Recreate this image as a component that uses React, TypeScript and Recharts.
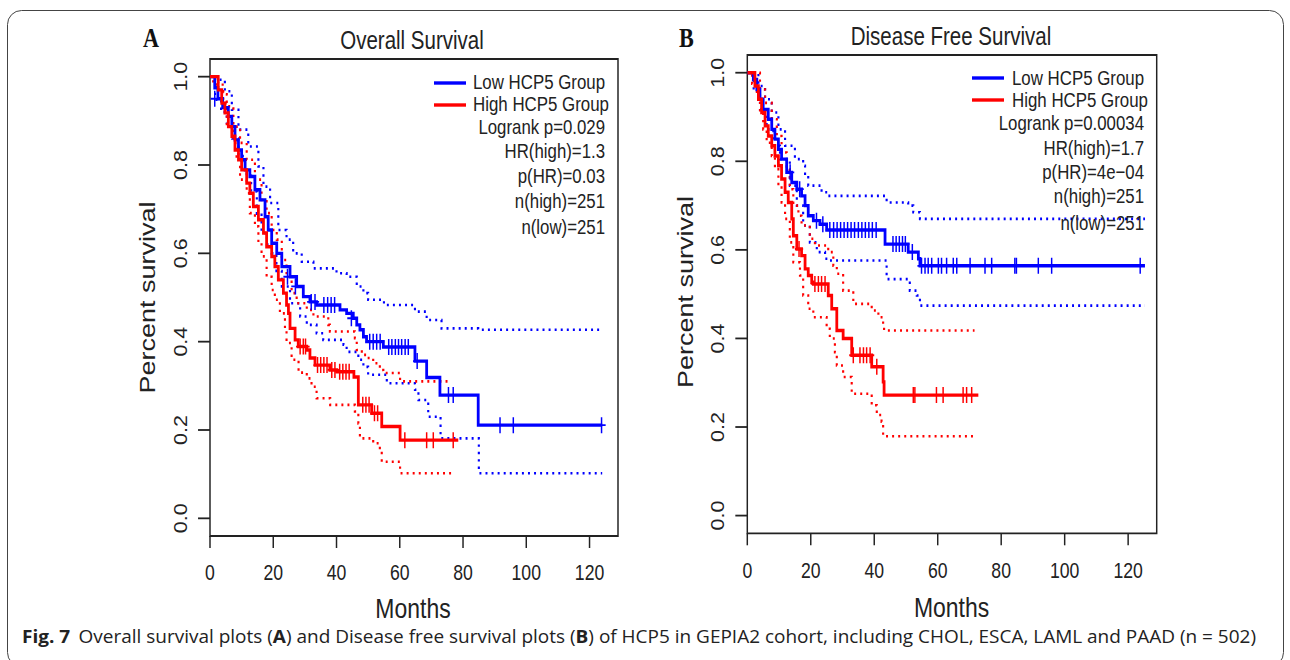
import React from 'react';
import { ComposedChart, Line, Scatter, XAxis, YAxis, ReferenceArea } from 'recharts';

type Pt = [number, number];

const monthTicks = [0, 20, 40, 60, 80, 100, 120];
const survivalTicks = [0, 0.2, 0.4, 0.6, 0.8, 1.0];

// Overall survival (panel A) - [month, survival] at each step
const osLow: Pt[] = [[0, 1], [1.5, 0.975], [2.5, 0.95], [4, 0.93], [5.8, 0.91], [6.9, 0.887], [7.9, 0.857], [9, 0.834], [10, 0.812], [11.1, 0.789], [12.6, 0.774], [14.2, 0.744], [15.8, 0.721], [17.4, 0.683], [18.4, 0.653], [19.5, 0.623], [21.1, 0.6], [22.7, 0.57], [25.3, 0.547], [27.4, 0.525], [29.5, 0.502], [31.6, 0.49], [33.7, 0.483], [41.1, 0.472], [43.2, 0.464], [45.3, 0.453], [46.4, 0.438], [47.4, 0.427], [48.5, 0.411], [49.5, 0.4], [54.8, 0.388], [64.8, 0.356], [68.5, 0.319], [72.7, 0.279], [84.8, 0.211], [124, 0.211]];
const osHigh: Pt[] = [[0, 1], [2.6, 0.97], [3.7, 0.94], [4.7, 0.918], [5.8, 0.887], [6.9, 0.865], [7.9, 0.834], [9, 0.812], [10, 0.789], [11.6, 0.759], [12.6, 0.736], [13.7, 0.706], [15.3, 0.676], [16.9, 0.646], [17.9, 0.615], [19.5, 0.593], [20.5, 0.57], [21.6, 0.54], [23.2, 0.51], [24.2, 0.483], [24.8, 0.464], [25.3, 0.43], [26.9, 0.404], [27.9, 0.389], [30.6, 0.381], [31.6, 0.363], [33.2, 0.347], [37.9, 0.336], [40.1, 0.332], [45.5, 0.32], [46.9, 0.257], [51.1, 0.238], [54.3, 0.208], [60.1, 0.177], [78.5, 0.177]];
const osLowUpper: Pt[] = [[0, 1], [1.6, 0.993], [4.7, 0.967], [6.9, 0.925], [9, 0.88], [12.1, 0.842], [15.3, 0.797], [16.9, 0.751], [19, 0.714], [21.6, 0.653], [24.2, 0.631], [26.3, 0.6], [29, 0.581], [32.7, 0.566], [40, 0.555], [43.2, 0.547], [46.4, 0.525], [48.5, 0.51], [50, 0.495], [55, 0.483], [64.8, 0.468], [68.5, 0.449], [73.2, 0.43], [84.8, 0.427], [124, 0.427]];
const osLowLower: Pt[] = [[0, 1], [1.6, 0.948], [3.5, 0.92], [5.3, 0.895], [7, 0.86], [9, 0.82], [11, 0.78], [13, 0.74], [14.8, 0.69], [16.3, 0.646], [18, 0.62], [19.5, 0.6], [21, 0.56], [22.7, 0.525], [25.3, 0.487], [28.5, 0.457], [30.6, 0.438], [33.7, 0.419], [35.8, 0.404], [42.2, 0.393], [43.2, 0.377], [46.9, 0.359], [48.5, 0.343], [50, 0.325], [55.9, 0.306], [64.8, 0.291], [65.9, 0.268], [69, 0.23], [72.9, 0.181], [85, 0.102], [124, 0.102]];
const osHighUpper: Pt[] = [[0, 1], [2.6, 0.985], [4, 0.96], [5.3, 0.933], [7.4, 0.887], [9.5, 0.85], [11.6, 0.812], [14.2, 0.767], [16.3, 0.721], [17.9, 0.691], [19.5, 0.653], [21.1, 0.631], [22.7, 0.585], [24.2, 0.547], [25.8, 0.51], [27.4, 0.487], [30.6, 0.472], [32.7, 0.457], [37.4, 0.438], [37.9, 0.423], [45.8, 0.408], [46.4, 0.381], [48, 0.37], [49.5, 0.363], [51.6, 0.351], [53.7, 0.336], [54.8, 0.329], [60.1, 0.31], [76, 0.31]];
const osHighLower: Pt[] = [[0, 1], [1, 0.985], [2.1, 0.97], [4.2, 0.94], [5.3, 0.887], [7.4, 0.85], [8.4, 0.812], [9.5, 0.767], [11.6, 0.736], [12.6, 0.691], [14.2, 0.661], [15.3, 0.623], [16.3, 0.593], [17.9, 0.547], [19.5, 0.517], [20.5, 0.495], [22.1, 0.464], [23.7, 0.427], [24.2, 0.397], [25.8, 0.359], [28, 0.33], [30.6, 0.317], [32.1, 0.298], [33.7, 0.272], [38, 0.257], [45.8, 0.242], [46.9, 0.215], [47.4, 0.181], [51.6, 0.17], [53.7, 0.151], [54.3, 0.128], [60.1, 0.102], [76.4, 0.102]];
const osLowCensor: Pt[] = [[1.5, 0.95], [24.5, 0.547], [27, 0.525], [32, 0.49], [33.2, 0.49], [36, 0.483], [37.2, 0.483], [38.3, 0.483], [39.4, 0.483], [44.7, 0.453], [50.5, 0.4], [51.6, 0.4], [52.7, 0.4], [53.8, 0.4], [56.5, 0.388], [57.5, 0.388], [58.6, 0.388], [59.6, 0.388], [60.6, 0.388], [61.7, 0.388], [62.7, 0.388], [65.5, 0.356], [75.4, 0.279], [76.9, 0.279], [91.7, 0.211], [95.9, 0.211], [123.8, 0.211]];
const osHighCensor: Pt[] = [[28.5, 0.389], [29.5, 0.389], [30.2, 0.389], [34, 0.347], [35, 0.347], [36, 0.347], [37, 0.347], [38.5, 0.336], [39.5, 0.336], [41, 0.332], [42, 0.332], [43, 0.332], [44, 0.332], [48.3, 0.257], [49.3, 0.257], [50.3, 0.257], [52, 0.238], [53, 0.238], [61.6, 0.177], [68.5, 0.177], [70.6, 0.177], [76.9, 0.177]];

// Disease free survival (panel B)
const dfsLow: Pt[] = [[0, 1], [1.9, 0.985], [3, 0.962], [4, 0.94], [5, 0.917], [6.6, 0.895], [7.7, 0.872], [8.7, 0.85], [9.8, 0.827], [10.8, 0.805], [12.4, 0.775], [14, 0.752], [15.6, 0.737], [17.1, 0.722], [18.2, 0.7], [19.2, 0.677], [20.8, 0.666], [22.9, 0.658], [25, 0.645], [43.4, 0.613], [50.7, 0.595], [53.9, 0.58], [54.4, 0.564], [125.3, 0.564]];
const dfsHigh: Pt[] = [[0, 1], [2.4, 0.97], [3.5, 0.94], [4.5, 0.91], [5.6, 0.88], [6.6, 0.857], [7.7, 0.835], [8.7, 0.812], [9.8, 0.79], [10.8, 0.76], [11.9, 0.73], [12.9, 0.707], [14, 0.67], [14.5, 0.632], [15.6, 0.602], [17.1, 0.587], [18.2, 0.557], [19.2, 0.542], [20.3, 0.527], [20.8, 0.523], [25.5, 0.497], [26.6, 0.467], [28.2, 0.418], [30.2, 0.4], [32.9, 0.362], [39.2, 0.336], [42.8, 0.302], [43.1, 0.272], [72.8, 0.272]];
const dfsLowUpper: Pt[] = [[0, 1], [3.5, 0.97], [5.6, 0.94], [7.7, 0.91], [9.8, 0.872], [11.9, 0.835], [15, 0.805], [17.6, 0.79], [18.2, 0.767], [19.2, 0.745], [23.4, 0.73], [25.5, 0.722], [43.9, 0.707], [50.7, 0.7], [52.3, 0.685], [54.4, 0.67], [125.3, 0.67]];
const dfsLowLower: Pt[] = [[0, 1], [2, 0.96], [4, 0.917], [6.1, 0.872], [8.2, 0.835], [10.3, 0.805], [13.4, 0.745], [15.6, 0.7], [17.6, 0.655], [19.7, 0.617], [21.9, 0.595], [24.5, 0.58], [25.5, 0.576], [43.9, 0.534], [51.2, 0.508], [53.4, 0.497], [54.4, 0.474], [125.3, 0.474]];
const dfsHighUpper: Pt[] = [[0, 1], [4, 0.962], [5.6, 0.932], [7.7, 0.895], [9.3, 0.857], [10.8, 0.82], [12.4, 0.782], [13.4, 0.737], [14.5, 0.7], [16.1, 0.677], [17.1, 0.655], [19.7, 0.625], [21.3, 0.61], [25.5, 0.595], [27.1, 0.564], [28.2, 0.546], [30.2, 0.508], [33.4, 0.478], [39.2, 0.463], [41.3, 0.448], [42.8, 0.429], [43.1, 0.418], [71.6, 0.418]];
const dfsHighLower: Pt[] = [[0, 1], [1.5, 0.975], [3, 0.947], [4, 0.91], [5, 0.872], [6.1, 0.842], [7.7, 0.812], [8.7, 0.782], [9.8, 0.745], [10.8, 0.707], [11.9, 0.67], [13.4, 0.617], [14.5, 0.572], [16.6, 0.542], [17.6, 0.497], [19.2, 0.467], [20.8, 0.448], [25, 0.422], [26, 0.4], [27.6, 0.369], [28.2, 0.339], [30.2, 0.313], [32.9, 0.275], [39.2, 0.249], [40.8, 0.227], [42.3, 0.212], [42.8, 0.179], [72.3, 0.179]];
const dfsLowCensor: Pt[] = [[13.5, 0.775], [16.5, 0.737], [21.8, 0.666], [23.8, 0.658], [26, 0.645], [27.2, 0.645], [28.3, 0.645], [29.4, 0.645], [30.5, 0.645], [31.6, 0.645], [32.7, 0.645], [33.8, 0.645], [35, 0.645], [36.1, 0.645], [37.2, 0.645], [38.3, 0.645], [39.4, 0.645], [40.6, 0.645], [45.9, 0.613], [46.9, 0.613], [47.9, 0.613], [48.9, 0.613], [49.8, 0.613], [52, 0.595], [54.9, 0.564], [56, 0.564], [57, 0.564], [58.1, 0.564], [60.2, 0.564], [61.2, 0.564], [62.8, 0.564], [64.9, 0.564], [66, 0.564], [70.2, 0.564], [74.9, 0.564], [77, 0.564], [84.3, 0.564], [84.8, 0.564], [91.7, 0.564], [95.9, 0.564], [123.8, 0.564]];
const dfsHighCensor: Pt[] = [[16.3, 0.602], [21.3, 0.523], [22.4, 0.523], [23.4, 0.523], [24.5, 0.523], [33.4, 0.362], [35.5, 0.362], [36.6, 0.362], [37.6, 0.362], [38.7, 0.362], [40.8, 0.336], [52.3, 0.272], [52.8, 0.272], [59.6, 0.272], [61.7, 0.272], [68, 0.272], [69.1, 0.272], [70.7, 0.272]];

const groupLabels = ['Low HCP5 Group', 'High HCP5 Group'];
const osStats = ['Logrank p=0.029', 'HR(high)=1.3', 'p(HR)=0.03', 'n(high)=251', 'n(low)=251'];
const dfsStats = ['Logrank p=0.00034', 'HR(high)=1.7', 'p(HR)=4e\u221204', 'n(high)=251', 'n(low)=251'];

const toRows = (pts: Pt[]) => pts.map(([t, s]) => ({ t, s }));

// the R figure is squeezed horizontally; draw wide and squeeze with CSS
const SX = 0.82;
const BLUE = '#0000ff';
const RED = '#ff0000';
const INK = '#222';
const FONT = '"Liberation Sans", Arial, sans-serif';
const TICK_SIZE = 21.5;

function Plus(props: any) {
  const { cx, cy, fill } = props;
  if (cx == null || cy == null) return null;
  return (
    <path
      d={`M${cx - 5},${cy}H${cx + 5}M${cx},${cy - 8}V${cy + 8}`}
      stroke={fill}
      strokeWidth={1.8}
      fill="none"
    />
  );
}

function YTick(props: any) {
  const { x, y, payload } = props;
  return (
    <text x={x} y={y} transform={`rotate(-90 ${x} ${y})`} textAnchor="middle" fontSize={TICK_SIZE} fontFamily={FONT} fill={INK}>
      {Number(payload.value).toFixed(1)}
    </text>
  );
}

function KMPanel(props: any) {
  const { left, margin, low, high, lowUp, lowLo, highUp, highLo, lowCens, highCens } = props;
  const dotted = { type: 'stepAfter' as const, dataKey: 's', strokeWidth: 2.6, strokeDasharray: '2.4 5', dot: false, activeDot: false, isAnimationActive: false };
  const solid = { type: 'stepAfter' as const, dataKey: 's', strokeWidth: 3.4, dot: false, activeDot: false, isAnimationActive: false };
  return (
    <div style={{ position: 'absolute', left, top: 0 }}>
      <ComposedChart width={800} height={660} margin={margin}>
        <XAxis
          type="number"
          dataKey="t"
          domain={[0, 129]}
          ticks={monthTicks}
          interval={0}
          allowDataOverflow
          axisLine={false}
          height={60}
          tickSize={12}
          tickMargin={17}
          tickLine={{ stroke: INK, strokeWidth: 1.8 }}
          tick={{ fill: INK, fontSize: TICK_SIZE, fontFamily: FONT }}
        />
        <YAxis
          type="number"
          dataKey="s"
          domain={[-0.04, 1.04]}
          ticks={survivalTicks}
          interval={0}
          allowDataOverflow
          axisLine={false}
          width={100}
          tickSize={14.6}
          tickMargin={13.4}
          tickLine={{ stroke: INK, strokeWidth: 1.8 }}
          tick={<YTick />}
        />
        <ReferenceArea x1={0} x2={129} y1={-0.04} y2={1.04} fill="none" stroke={INK} strokeWidth={1.8} ifOverflow="visible" />
        <Line data={toRows(lowUp)} stroke={BLUE} {...dotted} />
        <Line data={toRows(lowLo)} stroke={BLUE} {...dotted} />
        <Line data={toRows(highUp)} stroke={RED} {...dotted} />
        <Line data={toRows(highLo)} stroke={RED} {...dotted} />
        <Line data={toRows(low)} stroke={BLUE} {...solid} />
        <Scatter data={toRows(lowCens)} dataKey="s" fill={BLUE} shape={Plus} isAnimationActive={false} />
        <Line data={toRows(high)} stroke={RED} {...solid} />
        <Scatter data={toRows(highCens)} dataKey="s" fill={RED} shape={Plus} isAnimationActive={false} />
      </ComposedChart>
    </div>
  );
}

function Legend(props: any) {
  const { lineX, textX, rightX, lineY, textY, statY, stats } = props;
  const u = (px: number) => px / SX;
  return (
    <g fontFamily={FONT} fill={INK}>
      <line x1={lineX[0]} x2={lineX[1]} y1={lineY[0]} y2={lineY[0]} stroke={BLUE} strokeWidth={3.4} />
      <line x1={lineX[0]} x2={lineX[1]} y1={lineY[1]} y2={lineY[1]} stroke={RED} strokeWidth={3.4} />
      <text x={textX} y={textY[0]} fontSize={19.5} textLength={u(132)} lengthAdjust="spacingAndGlyphs">{groupLabels[0]}</text>
      <text x={textX} y={textY[1]} fontSize={19.5} textLength={u(136)} lengthAdjust="spacingAndGlyphs">{groupLabels[1]}</text>
      {stats.map((s: string, i: number) => (
        <text key={s} x={rightX} y={statY[i]} fontSize={20.5} textAnchor="end">{s}</text>
      ))}
    </g>
  );
}

export default function App() {
  const u = (px: number) => px / SX;
  return (
    <div style={{ position: 'absolute', left: 0, top: 0, width: 1290, height: 660, background: '#fff', overflow: 'hidden' }}>
      <div style={{ position: 'absolute', left: 0, top: 0, width: u(1290), height: 660, transform: `scaleX(${SX})`, transformOrigin: '0 0' }}>
        <KMPanel
          left={0}
          margin={{ top: 59, right: 800 - u(618), bottom: 64, left: u(210) - 100 }}
          low={osLow} high={osHigh} lowUp={osLowUpper} lowLo={osLowLower} highUp={osHighUpper} highLo={osHighLower}
          lowCens={osLowCensor} highCens={osHighCensor}
        />
        <KMPanel
          left={655}
          margin={{ top: 55, right: 800 - (u(1156.7) - 655), bottom: 66.7, left: u(747.3) - 655 - 100 }}
          low={dfsLow} high={dfsHigh} lowUp={dfsLowUpper} lowLo={dfsLowLower} highUp={dfsHighUpper} highLo={dfsHighLower}
          lowCens={dfsLowCensor} highCens={dfsHighCensor}
        />
        <svg width={u(1290)} height={660} style={{ position: 'absolute', left: 0, top: 0, pointerEvents: 'none' }}>
          <text x={u(143)} y={47} fontFamily='"Liberation Serif", serif' fontWeight={700} fontSize={27} fill="#111">A</text>
          <text x={u(679)} y={47} fontFamily='"Liberation Serif", serif' fontWeight={700} fontSize={27} fill="#111">B</text>
          <text x={u(412)} y={49} textAnchor="middle" fontFamily={FONT} fontSize={25} fill={INK}>Overall Survival</text>
          <text x={u(951)} y={45} textAnchor="middle" fontFamily={FONT} fontSize={25} fill={INK}>Disease Free Survival</text>
          <Legend lineX={[u(434), u(466)]} textX={u(473)} rightX={u(605)} lineY={[83, 105]} textY={[89.5, 111.5]} statY={[134.5, 158.5, 183, 208, 234]} stats={osStats} />
          <Legend lineX={[u(972), u(1004)]} textX={u(1012)} rightX={u(1144)} lineY={[78, 100]} textY={[85, 107]} statY={[130.5, 155, 179, 203, 230]} stats={dfsStats} />
          <text x={u(155)} y={297.5} transform={`rotate(-90 ${u(155)} 297.5)`} textAnchor="middle" fontFamily={FONT} fontSize={27} fill={INK}>Percent survival</text>
          <text x={u(693.3)} y={292} transform={`rotate(-90 ${u(693.3)} 292)`} textAnchor="middle" fontFamily={FONT} fontSize={27} fill={INK}>Percent survival</text>
          <text x={u(413)} y={618} textAnchor="middle" fontFamily={FONT} fontSize={28} fill={INK}>Months</text>
          <text x={u(951.6)} y={617} textAnchor="middle" fontFamily={FONT} fontSize={28} fill={INK}>Months</text>
        </svg>
      </div>
      <svg width={1290} height={660} style={{ position: 'absolute', left: 0, top: 0, pointerEvents: 'none' }}>
        <rect x={7.5} y={10.5} width={1276} height={656} rx={14} fill="none" stroke="#444" strokeWidth={1} />
        <text x={22} y={643} fontFamily='"Open Sans", "Noto Sans", sans-serif' fontSize={18} fill="#222" textLength={1234} lengthAdjust="spacingAndGlyphs">
          <tspan fontWeight={700}>Fig. 7</tspan>
          <tspan dx={8}>Overall survival plots (</tspan>
          <tspan fontWeight={700}>A</tspan>
          <tspan>) and Disease free survival plots (</tspan>
          <tspan fontWeight={700}>B</tspan>
          <tspan>) of HCP5 in GEPIA2 cohort, including CHOL, ESCA, LAML and PAAD (n = 502)</tspan>
        </text>
      </svg>
    </div>
  );
}
